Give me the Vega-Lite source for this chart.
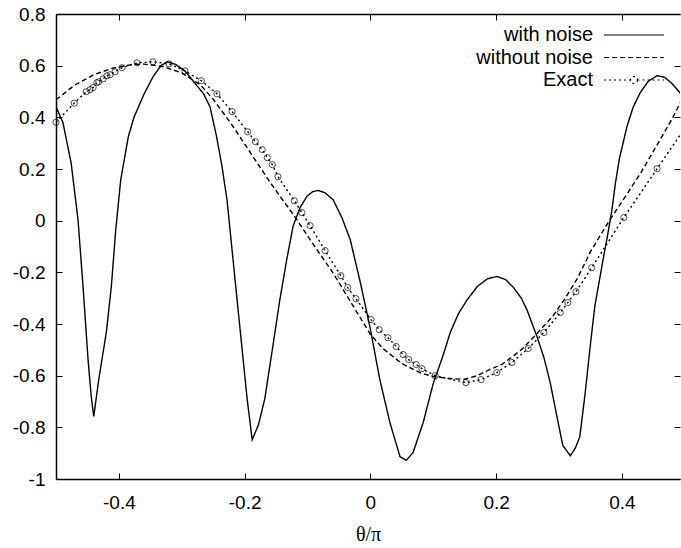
{
  "$schema": "https://vega.github.io/schema/vega-lite/v6.json",
  "autosize": "none",
  "width": 624,
  "height": 465,
  "padding": {"left": 56, "top": 14, "right": 1, "bottom": 69},
  "background": "white",
  "config": {
    "view": {"stroke": null},
    "font": "Liberation Sans",
    "axis": {"grid": false, "domainColor": "black", "tickColor": "black", "labelColor": "black", "titleColor": "black"}
  },
  "data": {"values": [
    {"series": "with noise", "x": -0.5, "y": 0.44},
    {"series": "with noise", "x": -0.489, "y": 0.38},
    {"series": "with noise", "x": -0.476, "y": 0.224},
    {"series": "with noise", "x": -0.465, "y": 0.004},
    {"series": "with noise", "x": -0.457, "y": -0.255},
    {"series": "with noise", "x": -0.449, "y": -0.538},
    {"series": "with noise", "x": -0.444, "y": -0.68},
    {"series": "with noise", "x": -0.44, "y": -0.758},
    {"series": "with noise", "x": -0.432, "y": -0.615},
    {"series": "with noise", "x": -0.42, "y": -0.433},
    {"series": "with noise", "x": -0.412, "y": -0.255},
    {"series": "with noise", "x": -0.405, "y": -0.035},
    {"series": "with noise", "x": -0.397, "y": 0.159},
    {"series": "with noise", "x": -0.385, "y": 0.325},
    {"series": "with noise", "x": -0.376, "y": 0.4},
    {"series": "with noise", "x": -0.36, "y": 0.49},
    {"series": "with noise", "x": -0.345, "y": 0.56},
    {"series": "with noise", "x": -0.333, "y": 0.6},
    {"series": "with noise", "x": -0.323, "y": 0.615},
    {"series": "with noise", "x": -0.31, "y": 0.605},
    {"series": "with noise", "x": -0.295, "y": 0.58},
    {"series": "with noise", "x": -0.28, "y": 0.535},
    {"series": "with noise", "x": -0.265, "y": 0.49},
    {"series": "with noise", "x": -0.255, "y": 0.44},
    {"series": "with noise", "x": -0.245, "y": 0.33},
    {"series": "with noise", "x": -0.236, "y": 0.21},
    {"series": "with noise", "x": -0.228, "y": 0.08},
    {"series": "with noise", "x": -0.212, "y": -0.306},
    {"series": "with noise", "x": -0.196, "y": -0.69},
    {"series": "with noise", "x": -0.188, "y": -0.848},
    {"series": "with noise", "x": -0.178, "y": -0.79},
    {"series": "with noise", "x": -0.168, "y": -0.69},
    {"series": "with noise", "x": -0.156, "y": -0.5},
    {"series": "with noise", "x": -0.144, "y": -0.306},
    {"series": "with noise", "x": -0.133, "y": -0.15},
    {"series": "with noise", "x": -0.123, "y": -0.022},
    {"series": "with noise", "x": -0.112, "y": 0.05},
    {"series": "with noise", "x": -0.101, "y": 0.094},
    {"series": "with noise", "x": -0.092, "y": 0.112},
    {"series": "with noise", "x": -0.083, "y": 0.117},
    {"series": "with noise", "x": -0.072, "y": 0.108},
    {"series": "with noise", "x": -0.059, "y": 0.08},
    {"series": "with noise", "x": -0.045, "y": 0.01},
    {"series": "with noise", "x": -0.032, "y": -0.074},
    {"series": "with noise", "x": -0.015, "y": -0.25},
    {"series": "with noise", "x": 0.0, "y": -0.42},
    {"series": "with noise", "x": 0.015, "y": -0.615},
    {"series": "with noise", "x": 0.031, "y": -0.781},
    {"series": "with noise", "x": 0.047, "y": -0.913},
    {"series": "with noise", "x": 0.057, "y": -0.928},
    {"series": "with noise", "x": 0.068, "y": -0.897},
    {"series": "with noise", "x": 0.084, "y": -0.781},
    {"series": "with noise", "x": 0.1, "y": -0.63},
    {"series": "with noise", "x": 0.115, "y": -0.526},
    {"series": "with noise", "x": 0.127, "y": -0.433},
    {"series": "with noise", "x": 0.14, "y": -0.36},
    {"series": "with noise", "x": 0.154, "y": -0.306},
    {"series": "with noise", "x": 0.17, "y": -0.255},
    {"series": "with noise", "x": 0.186, "y": -0.225},
    {"series": "with noise", "x": 0.201, "y": -0.216},
    {"series": "with noise", "x": 0.215, "y": -0.228},
    {"series": "with noise", "x": 0.228, "y": -0.26},
    {"series": "with noise", "x": 0.24, "y": -0.3},
    {"series": "with noise", "x": 0.249, "y": -0.345},
    {"series": "with noise", "x": 0.265, "y": -0.449},
    {"series": "with noise", "x": 0.276, "y": -0.53},
    {"series": "with noise", "x": 0.286, "y": -0.627},
    {"series": "with noise", "x": 0.296, "y": -0.75},
    {"series": "with noise", "x": 0.306, "y": -0.87},
    {"series": "with noise", "x": 0.318, "y": -0.91},
    {"series": "with noise", "x": 0.326, "y": -0.88},
    {"series": "with noise", "x": 0.333, "y": -0.837},
    {"series": "with noise", "x": 0.341, "y": -0.68},
    {"series": "with noise", "x": 0.349, "y": -0.499},
    {"series": "with noise", "x": 0.357, "y": -0.33},
    {"series": "with noise", "x": 0.369, "y": -0.165},
    {"series": "with noise", "x": 0.377, "y": -0.06},
    {"series": "with noise", "x": 0.384, "y": 0.04},
    {"series": "with noise", "x": 0.39, "y": 0.15},
    {"series": "with noise", "x": 0.396, "y": 0.24},
    {"series": "with noise", "x": 0.408, "y": 0.364},
    {"series": "with noise", "x": 0.418, "y": 0.44},
    {"series": "with noise", "x": 0.429, "y": 0.495},
    {"series": "with noise", "x": 0.442, "y": 0.54},
    {"series": "with noise", "x": 0.456, "y": 0.561},
    {"series": "with noise", "x": 0.468, "y": 0.555},
    {"series": "with noise", "x": 0.48, "y": 0.53},
    {"series": "with noise", "x": 0.494, "y": 0.49},
    {"series": "with noise", "x": 0.5, "y": 0.465},

    {"series": "without noise", "x": -0.5, "y": 0.468},
    {"series": "without noise", "x": -0.47, "y": 0.525},
    {"series": "without noise", "x": -0.44, "y": 0.565},
    {"series": "without noise", "x": -0.41, "y": 0.59},
    {"series": "without noise", "x": -0.38, "y": 0.604},
    {"series": "without noise", "x": -0.36, "y": 0.606},
    {"series": "without noise", "x": -0.33, "y": 0.597},
    {"series": "without noise", "x": -0.3, "y": 0.572},
    {"series": "without noise", "x": -0.27, "y": 0.525},
    {"series": "without noise", "x": -0.25, "y": 0.47},
    {"series": "without noise", "x": -0.22, "y": 0.37},
    {"series": "without noise", "x": -0.19, "y": 0.26},
    {"series": "without noise", "x": -0.16, "y": 0.15},
    {"series": "without noise", "x": -0.12, "y": 0.015},
    {"series": "without noise", "x": -0.09, "y": -0.095},
    {"series": "without noise", "x": -0.06, "y": -0.2},
    {"series": "without noise", "x": -0.03, "y": -0.32},
    {"series": "without noise", "x": 0.0, "y": -0.44},
    {"series": "without noise", "x": 0.02, "y": -0.495},
    {"series": "without noise", "x": 0.05, "y": -0.553},
    {"series": "without noise", "x": 0.08, "y": -0.59},
    {"series": "without noise", "x": 0.1, "y": -0.603},
    {"series": "without noise", "x": 0.13, "y": -0.612},
    {"series": "without noise", "x": 0.15, "y": -0.614},
    {"series": "without noise", "x": 0.17, "y": -0.6},
    {"series": "without noise", "x": 0.19, "y": -0.576},
    {"series": "without noise", "x": 0.21, "y": -0.555},
    {"series": "without noise", "x": 0.24, "y": -0.5},
    {"series": "without noise", "x": 0.26, "y": -0.45},
    {"series": "without noise", "x": 0.29, "y": -0.37},
    {"series": "without noise", "x": 0.31, "y": -0.3},
    {"series": "without noise", "x": 0.33, "y": -0.22},
    {"series": "without noise", "x": 0.35, "y": -0.12},
    {"series": "without noise", "x": 0.38, "y": 0.0},
    {"series": "without noise", "x": 0.41, "y": 0.11},
    {"series": "without noise", "x": 0.43, "y": 0.185},
    {"series": "without noise", "x": 0.46, "y": 0.31},
    {"series": "without noise", "x": 0.48, "y": 0.395},
    {"series": "without noise", "x": 0.5, "y": 0.49},

    {"series": "Exact", "x": -0.5, "y": 0.381},
    {"series": "Exact", "x": -0.471, "y": 0.455},
    {"series": "Exact", "x": -0.452, "y": 0.499},
    {"series": "Exact", "x": -0.446, "y": 0.507},
    {"series": "Exact", "x": -0.441, "y": 0.515},
    {"series": "Exact", "x": -0.435, "y": 0.534},
    {"series": "Exact", "x": -0.432, "y": 0.538},
    {"series": "Exact", "x": -0.425, "y": 0.549},
    {"series": "Exact", "x": -0.419, "y": 0.561},
    {"series": "Exact", "x": -0.414, "y": 0.565},
    {"series": "Exact", "x": -0.406, "y": 0.576},
    {"series": "Exact", "x": -0.395, "y": 0.592},
    {"series": "Exact", "x": -0.371, "y": 0.611},
    {"series": "Exact", "x": -0.346, "y": 0.615},
    {"series": "Exact", "x": -0.32, "y": 0.607},
    {"series": "Exact", "x": -0.295, "y": 0.58},
    {"series": "Exact", "x": -0.269, "y": 0.542},
    {"series": "Exact", "x": -0.244, "y": 0.491},
    {"series": "Exact", "x": -0.22, "y": 0.422},
    {"series": "Exact", "x": -0.195, "y": 0.344},
    {"series": "Exact", "x": -0.183, "y": 0.306},
    {"series": "Exact", "x": -0.172, "y": 0.275},
    {"series": "Exact", "x": -0.164, "y": 0.244},
    {"series": "Exact", "x": -0.156, "y": 0.217},
    {"series": "Exact", "x": -0.147, "y": 0.17},
    {"series": "Exact", "x": -0.121, "y": 0.077},
    {"series": "Exact", "x": -0.109, "y": 0.031},
    {"series": "Exact", "x": -0.096, "y": -0.019},
    {"series": "Exact", "x": -0.072, "y": -0.116},
    {"series": "Exact", "x": -0.047, "y": -0.213},
    {"series": "Exact", "x": -0.036, "y": -0.259},
    {"series": "Exact", "x": -0.023, "y": -0.302},
    {"series": "Exact", "x": 0.001, "y": -0.383},
    {"series": "Exact", "x": 0.014, "y": -0.422},
    {"series": "Exact", "x": 0.028, "y": -0.453},
    {"series": "Exact", "x": 0.041, "y": -0.487},
    {"series": "Exact", "x": 0.052, "y": -0.518},
    {"series": "Exact", "x": 0.061, "y": -0.538},
    {"series": "Exact", "x": 0.073, "y": -0.557},
    {"series": "Exact", "x": 0.082, "y": -0.573},
    {"series": "Exact", "x": 0.103, "y": -0.6},
    {"series": "Exact", "x": 0.152, "y": -0.627},
    {"series": "Exact", "x": 0.176, "y": -0.615},
    {"series": "Exact", "x": 0.201, "y": -0.588},
    {"series": "Exact", "x": 0.225, "y": -0.549},
    {"series": "Exact", "x": 0.251, "y": -0.495},
    {"series": "Exact", "x": 0.276, "y": -0.433},
    {"series": "Exact", "x": 0.302, "y": -0.356},
    {"series": "Exact", "x": 0.314, "y": -0.317},
    {"series": "Exact", "x": 0.327, "y": -0.275},
    {"series": "Exact", "x": 0.352, "y": -0.182},
    {"series": "Exact", "x": 0.403, "y": 0.012},
    {"series": "Exact", "x": 0.456, "y": 0.201},
    {"series": "Exact", "x": 0.509, "y": 0.39}
  ]},
  "resolve": {"axis": {"x": "independent", "y": "independent"}},
  "layer": [
    {
      "mark": {"type": "line", "color": "black", "strokeWidth": 1.4, "clip": true},
      "encoding": {
        "x": {"field": "x", "type": "quantitative", "scale": {"domain": [-0.5, 0.4924], "nice": false, "zero": false},
          "axis": {"orient": "bottom", "values": [-0.4, -0.2, 0, 0.2, 0.4], "labelExpr": "'' + datum.value",
            "tickSize": -6, "labelPadding": 20, "labelFontSize": 19, "labelFont": "Liberation Sans", "domainWidth": 1.5,
            "title": "θ/π", "titleFont": "Liberation Serif", "titleFontSize": 20, "titleFontWeight": "normal", "titlePadding": 12}},
        "y": {"field": "y", "type": "quantitative", "scale": {"domain": [-1, 0.8], "nice": false, "zero": false},
          "axis": {"orient": "left", "values": [-1, -0.8, -0.6, -0.4, -0.2, 0, 0.2, 0.4, 0.6, 0.8], "labelExpr": "'' + datum.value",
            "tickSize": -6, "labelPadding": 17, "labelFontSize": 19, "labelFont": "Liberation Sans", "domainWidth": 1.5, "title": null}},
        "strokeDash": {"field": "series", "type": "nominal",
          "scale": {"domain": ["with noise", "without noise", "Exact"], "range": [[1, 0], [5, 3], [2, 3]]},
          "legend": {"orient": "none", "legendX": 567, "legendY": 10, "title": null,
            "symbolType": "M-3,0H3", "symbolSize": 400, "symbolStrokeColor": "black", "symbolStrokeWidth": 1.2,
            "labelAlign": "right", "labelOffset": -52, "labelFont": "Liberation Sans", "labelFontSize": 20, "labelLimit": 0,
            "rowPadding": 1.5,
            "encode": {"symbols": {"update": {"shape": [
              {"test": "datum.value === 'Exact'", "value": "M-3,0H-0.35M0.35,0H3M0.35,0A0.35,0.35,0,1,1,-0.35,0A0.35,0.35,0,1,1,0.35,0"},
              {"value": "M-3,0H3"}]}}}}}
      }
    },
    {
      "transform": [{"filter": "datum.series === 'Exact'"}],
      "mark": {"type": "point", "shape": "circle", "filled": false, "color": "black", "size": 38, "strokeWidth": 1, "clip": false},
      "encoding": {
        "x": {"field": "x", "type": "quantitative",
          "axis": {"orient": "top", "values": [-0.4, -0.2, 0, 0.2, 0.4], "labels": false, "tickSize": -6, "domainWidth": 1.5, "title": null}},
        "y": {"field": "y", "type": "quantitative",
          "axis": {"orient": "right", "values": [-1, -0.8, -0.6, -0.4, -0.2, 0, 0.2, 0.4, 0.6, 0.8], "labels": false, "tickSize": -6, "domain": false, "title": null}}
      }
    }
  ]
}
